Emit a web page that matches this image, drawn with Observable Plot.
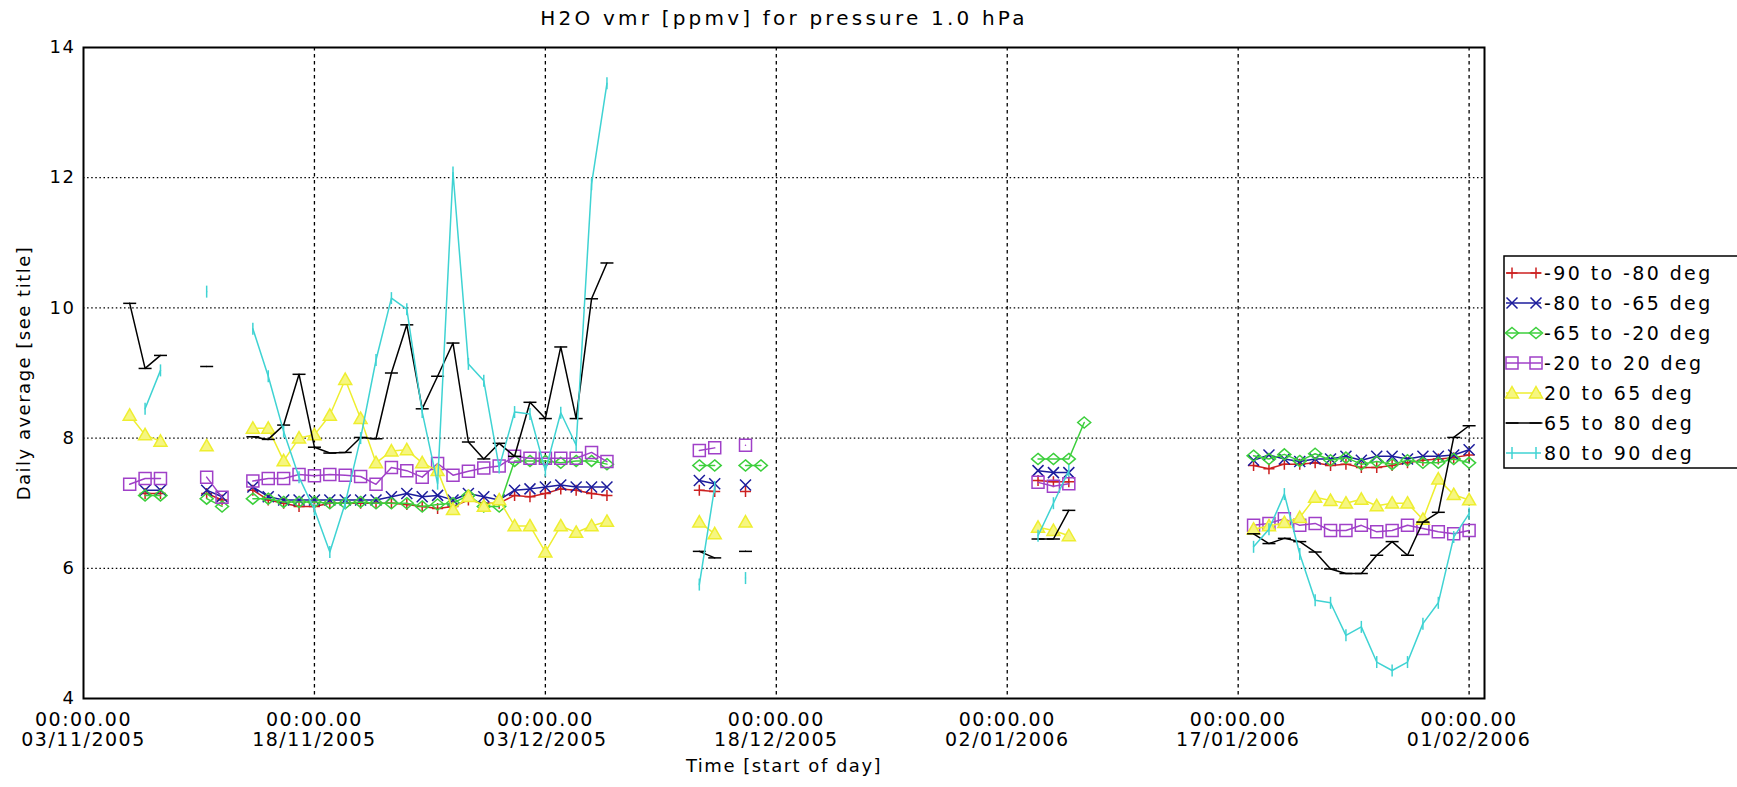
<!DOCTYPE html>
<html><head><meta charset="utf-8">
<script src="https://cdn.jsdelivr.net/npm/d3@7"></script>
<script src="https://cdn.jsdelivr.net/npm/@observablehq/plot@0.6"></script>
<style>
body{margin:0;background:#fff;}
#chart{width:1737px;height:787px;}
svg text{letter-spacing:1.5px;}
svg .ttl text{letter-spacing:3.2px;}
svg text.lgt{letter-spacing:2.4px;}
</style></head><body><div id="chart"></div><script>
// ---- data (day offsets from 03/11/2005) ----
const startDay = "2005-11-03";
const tickDays = [0, 15, 30, 45, 60, 75, 90];
const seriesNames = ["-90 to -80 deg","-80 to -65 deg","-65 to -20 deg","-20 to 20 deg","20 to 65 deg","65 to 80 deg","80 to 90 deg"];
const seriesColors = ["#cc2020","#1c1c9c","#3ccf3c","#a040c8","#eeee30","#000000","#3fd3d3"];

const daysRed = [4,5,8,9,11,12,13,14,15,16,17,18,19,20,21,22,23,24,25,26,27,28,29,30,31,32,33,34,40,41,43,62,63,64,76,77,78,79,80,81,82,83,84,85,86,87,88,89,90];
const valsRed = [7.15,7.15,7.15,7.05,
 7.2,7.05,7.0,6.95,6.95,7.0,7.0,7.0,7.0,7.0,6.98,6.95,6.92,6.95,7.05,7.0,7.0,7.12,7.1,7.15,7.22,7.2,7.15,7.12,
 7.2,7.18,7.18,
 7.35,7.33,7.33,
 7.58,7.53,7.6,7.6,7.62,7.58,7.6,7.55,7.55,7.58,7.62,7.66,7.68,7.7,7.74];

const daysBlue = [4,5,8,9,11,12,13,14,15,16,17,18,19,20,21,22,23,24,25,26,27,28,29,30,31,32,33,34,40,41,43,62,63,64,76,77,78,79,80,81,82,83,84,85,86,87,88,89,90];
const valsBlue = [7.2,7.2,7.2,7.1,
 7.25,7.1,7.05,7.05,7.05,7.05,7.05,7.05,7.05,7.1,7.15,7.1,7.12,7.05,7.15,7.1,7.05,7.2,7.22,7.25,7.28,7.25,7.25,7.25,
 7.35,7.3,7.28,
 7.5,7.47,7.47,
 7.66,7.74,7.68,7.64,7.68,7.68,7.72,7.66,7.72,7.72,7.68,7.72,7.72,7.74,7.82];

const daysGreen = [4,5,8,9,11,12,13,14,15,16,17,18,19,20,21,22,23,24,25,26,27,28,29,30,31,32,33,34,40,41,43,44,62,63,64,65,76,77,78,79,80,81,82,83,84,85,86,87,88,89,90];
const valsGreen = [7.12,7.12,7.07,6.95,
 7.07,7.07,7.02,7.02,7.02,7.0,7.0,7.02,7.0,7.0,7.0,6.95,6.98,7.0,7.12,6.95,6.95,7.65,7.65,7.65,7.62,7.65,7.65,7.6,
 7.58,7.58,7.58,7.58,
 7.68,7.68,7.68,8.24,
 7.73,7.68,7.75,7.65,7.76,7.66,7.7,7.6,7.64,7.6,7.66,7.62,7.62,7.68,7.62];

const daysPurple = [3,4,5,8,9,11,12,13,14,15,16,17,18,19,20,21,22,23,24,25,26,27,28,29,30,31,32,33,34,40,41,43,62,63,64,76,77,78,79,80,81,82,83,84,85,86,87,88,89,90];
const valsPurple = [7.29,7.38,7.38,7.40,7.09,
 7.34,7.38,7.38,7.44,7.42,7.44,7.43,7.41,7.29,7.55,7.50,7.40,7.61,7.43,7.49,7.54,7.57,7.72,7.69,7.69,7.69,7.69,7.78,7.64,
 7.81,7.85,7.89,
 7.32,7.26,7.30,
 6.66,6.69,6.76,6.66,6.69,6.58,6.58,6.66,6.56,6.58,6.66,6.61,6.56,6.53,6.58];

const daysYellow = [3,4,5,8,11,12,13,14,15,16,17,18,19,20,21,22,23,24,25,26,27,28,29,30,31,32,33,34,40,41,43,62,63,64,76,77,78,79,80,81,82,83,84,85,86,87,88,89,90];
const valsYellow = [8.35,8.05,7.95,7.88,
 8.15,8.15,7.65,8.0,8.05,8.35,8.9,8.3,7.62,7.8,7.82,7.62,7.5,6.9,7.1,6.95,7.05,6.65,6.65,6.25,6.65,6.55,6.65,6.72,
 6.71,6.53,6.71,
 6.63,6.58,6.5,
 6.6,6.65,6.7,6.78,7.09,7.04,7.0,7.06,6.96,7.0,7.0,6.75,7.37,7.13,7.05];

const daysBlack = [3,4,5,8,11,12,13,14,15,16,17,18,19,20,21,22,23,24,25,26,27,28,29,30,31,32,33,34,40,41,43,62,63,64,76,77,78,79,80,81,82,83,84,85,86,87,88,89,90];
const valsBlack = [10.07,9.07,9.27,9.1,
 8.02,7.98,8.2,8.98,7.86,7.77,7.78,8.01,7.99,9.0,9.74,8.45,8.95,9.46,7.94,7.68,7.92,7.72,8.55,8.30,9.40,8.30,10.14,10.69,
 6.26,6.16,6.26,
 6.45,6.45,6.89,
 6.53,6.38,6.46,6.41,6.25,5.99,5.92,5.92,6.2,6.41,6.2,6.71,6.86,8.01,8.19];

const daysCyan = [4,5,8,11,12,13,14,15,16,17,18,19,20,21,22,23,24,25,26,27,28,29,30,31,32,33,34,40,41,43,62,63,64,76,77,78,79,80,81,82,83,84,85,86,87,88,89,90];
const valsCyan = [8.45,9.04,10.25,
 9.68,8.95,8.1,7.4,6.9,6.25,7.0,8.0,9.2,10.15,9.98,8.4,7.3,12.08,9.14,8.88,7.55,8.4,8.37,7.5,8.39,7.89,11.9,13.45,
 5.75,7.25,5.85,
 6.5,7.0,7.5,
 6.33,6.6,7.14,6.22,5.51,5.47,4.97,5.10,4.56,4.43,4.56,5.15,5.47,6.48,6.84];

const yTicks = [4,6,8,10,12,14];

// ---- helpers ----
const day0 = Date.parse(startDay + "T00:00:00Z");
const toDate = n => new Date(day0 + n * 864e5);
function buildRows(days, vals) {
  const out = [];
  for (let i = 0; i < days.length; i++) {
    if (i > 0 && days[i] - days[i-1] > 1) out.push({date: toDate((days[i] + days[i-1]) / 2), v: NaN});
    out.push({date: toDate(days[i]), v: vals[i]});
  }
  return out;
}
const mk = f => ({draw(ctx, size) { const r = Math.sqrt(size / Math.PI); f(ctx, r); }});
const symPlus = mk((c,r)=>{c.moveTo(-r,0);c.lineTo(r,0);c.moveTo(0,-r);c.lineTo(0,r);});
const symTimes = mk((c,r)=>{c.moveTo(-r,-r);c.lineTo(r,r);c.moveTo(-r,r);c.lineTo(r,-r);});
const symDiamond = mk((c,r)=>{c.moveTo(0,-r*0.85);c.lineTo(r,0);c.lineTo(0,r*0.85);c.lineTo(-r,0);c.closePath();});
const symSquare = mk((c,r)=>{c.moveTo(-r,-r);c.lineTo(r,-r);c.lineTo(r,r);c.lineTo(-r,r);c.closePath();});
const symTri = mk((c,r)=>{c.moveTo(0,-r);c.lineTo(r,r*0.75);c.lineTo(-r,r*0.75);c.closePath();});
const symH = mk((c,r)=>{c.moveTo(-r,0);c.lineTo(r,0);});
const symV = mk((c,r)=>{c.moveTo(0,-r);c.lineTo(0,r);});

const series = [
  {days: daysRed, vals: valsRed, sym: symPlus, r: 5.5, fill: "none"},
  {days: daysBlue, vals: valsBlue, sym: symTimes, r: 5.5, fill: "none"},
  {days: daysGreen, vals: valsGreen, sym: symDiamond, r: 6.5, fill: "none"},
  {days: daysPurple, vals: valsPurple, sym: symSquare, r: 6, fill: "none"},
  {days: daysYellow, vals: valsYellow, sym: symTri, r: 6.5, fill: "#f6f680"},
  {days: daysBlack, vals: valsBlack, sym: symH, r: 6.5, fill: "none"},
  {days: daysCyan, vals: valsCyan, sym: symV, r: 6, fill: "none"}
].map((s, i) => ({...s, name: seriesNames[i], color: seriesColors[i], rows: buildRows(s.days, s.vals)}));

const fmt = d => {
  const dd = String(d.getUTCDate()).padStart(2,"0"), mm = String(d.getUTCMonth()+1).padStart(2,"0");
  return `00:00.00\n${dd}/${mm}/${d.getUTCFullYear()}`;
};

const marks = [
  Plot.ruleY(yTicks.filter(t => t > 4 && t < 14), {stroke: "#000", strokeWidth: 1.3, strokeDasharray: "1.5,2.6"}),
  Plot.ruleX(tickDays.slice(1).map(toDate), {stroke: "#000", strokeWidth: 1.3, strokeDasharray: "3.5,3.5"})
];
for (const s of series) {
  marks.push(Plot.line(s.rows, {x: "date", y: "v", stroke: s.color, strokeWidth: 1.5}));
  marks.push(Plot.dot(s.rows.filter(d => !isNaN(d.v)), {x: "date", y: "v", symbol: s.sym, r: s.r, stroke: s.color, fill: s.fill, strokeWidth: 1.5}));
}
marks.push(
  Plot.frame({stroke: "#000", strokeWidth: 2}),
  Plot.axisY({ticks: yTicks, tickSize: 0, tickPadding: 8, label: null, fontSize: 18}),
  Plot.axisX({ticks: tickDays.map(toDate), tickSize: 0, tickPadding: 13, tickFormat: fmt, label: null, fontSize: 19, lineHeight: 1.05}),
  Plot.text(["H2O vmr [ppmv] for pressure 1.0 hPa"], {frameAnchor: "top", dy: -29, lineAnchor: "middle", fontSize: 20, fill: "#000", className: "ttl"}),
  Plot.text(["Time [start of day]"], {frameAnchor: "bottom", dy: 68, lineAnchor: "middle", fontSize: 18, fill: "#000"}),
  Plot.text(["Daily average [see title]"], {frameAnchor: "left", dx: -59, rotate: -90, textAnchor: "middle", lineAnchor: "middle", fontSize: 18, fill: "#000"})
);

const chart = Plot.plot({
  width: 1737, height: 787,
  marginLeft: 83, marginRight: 253, marginTop: 47, marginBottom: 89,
  style: {fontFamily: "DejaVu Sans", color: "#000", background: "#fff"},
  x: {type: "utc", domain: [toDate(0), toDate(91)]},
  y: {domain: [4, 14]},
  marks
});
document.getElementById("chart").append(chart);

// ---- legend ----
const svg = d3.select(chart);
const lg = svg.append("g").attr("font-family", "DejaVu Sans").attr("font-size", 19).attr("text-anchor", "start");
lg.append("rect").attr("x", 1504).attr("y", 256).attr("width", 260).attr("height", 212)
  .attr("fill", "none").attr("stroke", "#000").attr("stroke-width", 1.5);
series.forEach((s, i) => {
  const y = 273 + 30 * i;
  lg.append("line").attr("x1", 1506).attr("x2", 1541).attr("y1", y).attr("y2", y).attr("stroke", s.color).attr("stroke-width", 1.5);
  for (const x of [1512, 1536]) {
    const p = d3.path(); s.sym.draw(p, Math.PI * s.r * s.r);
    lg.append("path").attr("d", p.toString()).attr("transform", `translate(${x},${y})`)
      .attr("stroke", s.color).attr("fill", s.fill).attr("stroke-width", 1.5);
  }
  lg.append("text").attr("class", "lgt").attr("x", 1544).attr("y", y).attr("dy", "0.35em").attr("fill", "#000").text(s.name);
});
</script></body></html>
